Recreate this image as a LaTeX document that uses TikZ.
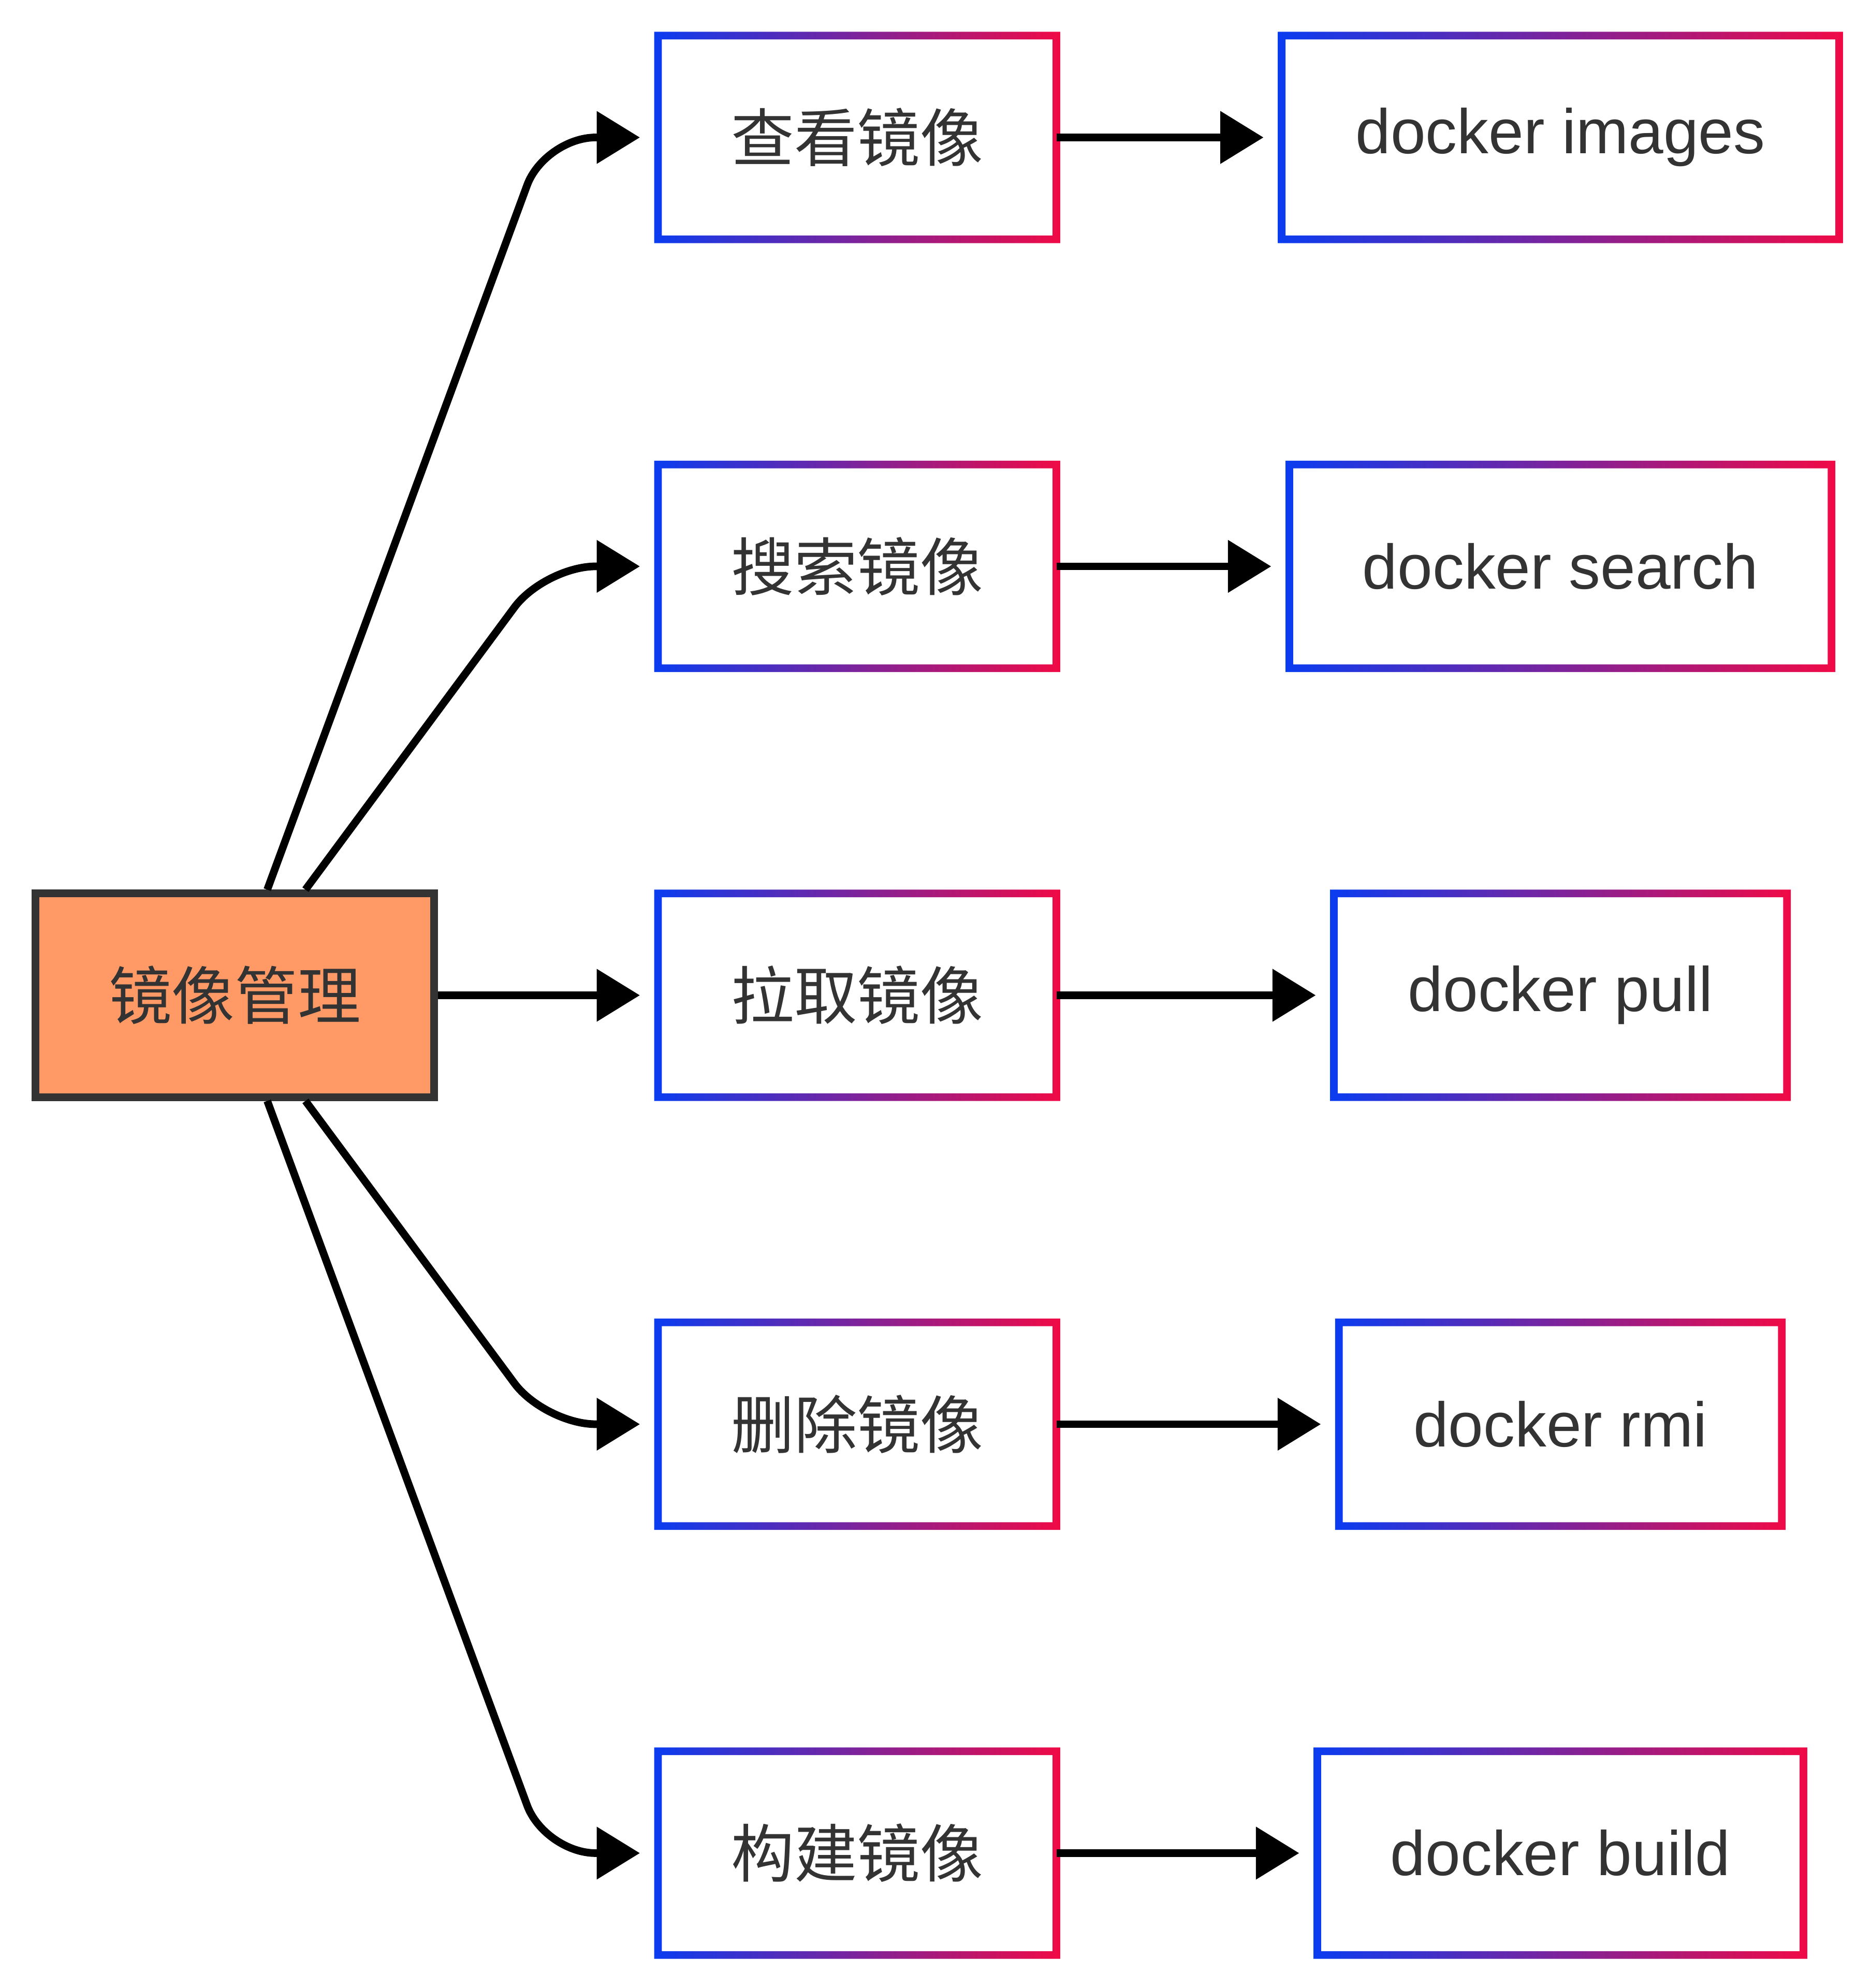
\documentclass[tikz,border=0pt]{standalone}
\usepackage{fontspec}
\setmainfont{Liberation Sans}
\newfontfamily\cjk{Noto Sans CJK SC}
\usetikzlibrary{arrows.meta,calc}
\definecolor{gb}{HTML}{0A3CF0}
\definecolor{gr}{HTML}{F00A46}
\definecolor{tx}{HTML}{333333}
\definecolor{og}{HTML}{FF9966}
\tikzset{
  lbl/.style={text=tx,font=\fontsize{49.5}{52}\selectfont,inner sep=0},
  conn/.style={line width=6pt,-{Triangle[length=34pt,width=40pt]},shorten >=14pt,rounded corners=40pt},
}
\newcommand{\gbox}[6]{%
  \shade[left color=gb,right color=gr,even odd rule]
    (#2-3,#3-3) rectangle (#4+3,#5+3) (#2+3,#3+3) rectangle (#4-3,#5-3);
  \node[lbl,minimum width=#4-#2,minimum height=#5-#3] (#1) at ({(#2+#4)/2},{(#3+#5)/2}) {#6};}
\begin{document}
\begin{tikzpicture}[x=1pt,y=-1pt]
\useasboundingbox (0,0) rectangle (1470,1562);
\node[lbl,draw=tx,line width=6pt,fill=og,minimum width=313,minimum height=160] (r) at (184.5,782) {\cjk 镜像管理};
\gbox{m1}{517}{28}{830}{188}{\cjk 查看镜像}
\gbox{m2}{517}{365}{830}{525}{\cjk 搜索镜像}
\gbox{m3}{517}{702}{830}{862}{\cjk 拉取镜像}
\gbox{m4}{517}{1039}{830}{1199}{\cjk 删除镜像}
\gbox{m5}{517}{1376}{830}{1536}{\cjk 构建镜像}
\gbox{d1}{1007}{28}{1445}{188}{docker images}
\gbox{d2}{1013}{365}{1439}{525}{docker search}
\gbox{d3}{1048}{702}{1404}{862}{docker pull}
\gbox{d4}{1052}{1039}{1400}{1199}{docker rmi}
\gbox{d5}{1035}{1376}{1417}{1536}{docker build}
\draw[conn] ($(r.north west)+(185,0)$) -- (428,108) -- (m1.west);
\draw[conn] ($(r.north west)+(215,0)$) -- (428,445) -- (m2.west);
\draw[conn] (r.east) -- (m3.west);
\draw[conn] ($(r.south west)+(215,0)$) -- (428,1119) -- (m4.west);
\draw[conn] ($(r.south west)+(185,0)$) -- (428,1456) -- (m5.west);
\foreach \i in {1,...,5} \draw[conn] (m\i.east) -- (d\i.west);
\end{tikzpicture}
\end{document}
